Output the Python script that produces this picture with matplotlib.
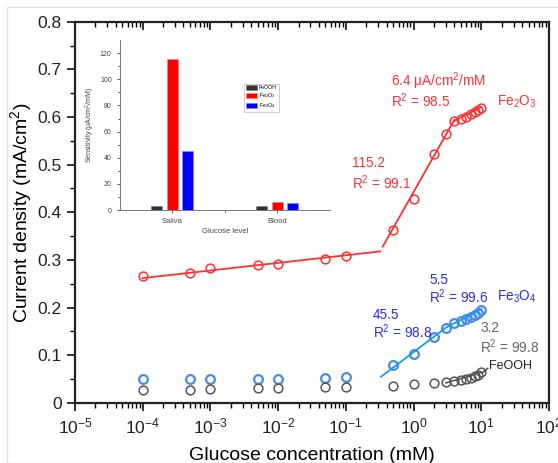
import numpy as np
import matplotlib
matplotlib.use("Agg")
import matplotlib.pyplot as plt
from matplotlib.patches import Rectangle

plt.rcParams['font.family'] = ['Liberation Sans', 'DejaVu Sans']
plt.rcParams['mathtext.fontset'] = 'custom'
plt.rcParams['mathtext.rm'] = 'Liberation Sans'
plt.rcParams['mathtext.it'] = 'Liberation Sans:italic'

# concentrations (mM)
conc = [1e-4, 5e-4, 1e-3, 5e-3, 1e-2, 5e-2, 0.1, 0.5, 1, 2, 3, 4, 5, 6, 7, 8, 9, 10]

# current density (mA/cm2)
fe2o3 = [0.266, 0.273, 0.283, 0.289, 0.292, 0.302, 0.309,
         0.363, 0.429, 0.522, 0.565, 0.591, 0.595, 0.600, 0.606, 0.611, 0.615, 0.619]
fe3o4 = [0.050, 0.050, 0.050, 0.050, 0.050, 0.053, 0.055,
         0.079, 0.102, 0.138, 0.157, 0.168, 0.172, 0.177, 0.180, 0.185, 0.188, 0.195]
feooh = [0.027, 0.027, 0.030, 0.031, 0.032, 0.034, 0.034,
         0.036, 0.039, 0.041, 0.043, 0.046, 0.048, 0.050, 0.053, 0.056, 0.058, 0.064]

# linear fit segments (x ends, y ends)
fe2o3_fit_low_x = [1e-4, 0.32]
fe2o3_fit_low_y = [0.262, 0.318]
fe2o3_fit_mid_x = [0.35, 4]
fe2o3_fit_mid_y = [0.328, 0.594]
fe2o3_fit_high_x = [4, 10]
fe2o3_fit_high_y = [0.592, 0.621]
fe3o4_fit_x = [0.33, 3, 10]
fe3o4_fit_y = [0.055, 0.158, 0.197]
feooh_fit_x = [3, 10]
feooh_fit_y = [0.042, 0.064]

# inset: sensitivity (uA/cm2/mM)
levels = ['Saliva', 'Blood']
sens_feooh = [3.2, 3.2]
sens_fe2o3 = [115.2, 6.4]
sens_fe3o4 = [45.5, 5.5]

red = '#ff3030'
blue_c = '#4a8ae8'
blue_line = '#1a9af0'
blue_t = '#2b2bf0'
gray = '#555555'

fig = plt.figure(figsize=(5.58, 4.63), dpi=100)
fig.patches.append(Rectangle((0.012, 0.0), 0.99, 0.985, transform=fig.transFigure,
                             fill=False, edgecolor='#e2e2e2', lw=1))
ax = fig.add_axes([0.1344, 0.1296, 0.8495, 0.8236])

ax.plot(conc, fe2o3, 'o', mfc='none', mec=red, ms=6.3, mew=1.1)
ax.plot(conc, fe3o4, 'o', mfc='none', mec=blue_c, ms=6.3, mew=1.6)
ax.plot(conc, feooh, 'o', mfc='none', mec=gray, ms=6.3, mew=1.1)
ax.plot(fe2o3_fit_low_x, fe2o3_fit_low_y, color=red, lw=1.3)
ax.plot(fe2o3_fit_mid_x, fe2o3_fit_mid_y, color=red, lw=1.3)
ax.plot(fe2o3_fit_high_x, fe2o3_fit_high_y, color=red, lw=1.3)
ax.plot(fe3o4_fit_x, fe3o4_fit_y, color=blue_line, lw=1.3)
ax.plot(feooh_fit_x, feooh_fit_y, color=gray, lw=1.1)
ax.plot([10.5, 12.5], [0.064, 0.073], color='#333333', lw=0.9)

ax.set_xscale('log')
ax.set_xlim(1e-5, 1e2)
ax.set_ylim(0, 0.8)
ax.set_yticks([0, 0.1, 0.2, 0.3, 0.4, 0.5, 0.6, 0.7, 0.8])
ax.set_yticklabels(['0', '0.1', '0.2', '0.3', '0.4', '0.5', '0.6', '0.7', '0.8'])
ax.set_yticks(np.arange(0.05, 0.8, 0.1), minor=True)
ax.set_xticks([1e-5, 1e-4, 1e-3, 1e-2, 1e-1, 1e0, 1e1, 1e2])
ax.set_xticklabels([r'$10^{-5}$', r'$10^{-4}$', r'$10^{-3}$', r'$10^{-2}$',
                    r'$10^{-1}$', r'$10^{0}$', r'$10^{1}$', r'$10^{2}$'])
ax.tick_params(which='major', direction='out', length=6, width=1.3, labelsize=12.5,
               colors='#222222', top=True, right=False)
ax.tick_params(which='minor', direction='out', length=3.5, width=1, top=True, right=False)
ax.tick_params(axis='x', which='both', top=True)
for t in ax.xaxis.get_major_ticks() + ax.xaxis.get_minor_ticks():
    t.tick2line.set_marker(3)  # inward on top
for sp in ax.spines.values():
    sp.set_linewidth(1.6)
    sp.set_color('#222222')
ax.set_xlabel('Glucose concentration (mM)', fontsize=14)
ax.set_ylabel('Current density (mA/cm$^2$)', fontsize=14)
ax.xaxis.set_label_coords(0.5, -0.115)
ax.yaxis.set_label_coords(-0.087, 0.5)

fs = 9.8
ax.text(0.47, 0.676, '6.4 \u03bcA/cm$^2$/mM', color=red, fontsize=fs, va='center')
ax.text(0.47, 0.635, 'R$^2$ = 98.5', color=red, fontsize=fs, va='center')
ax.text(17, 0.631, 'Fe$_2$O$_3$', color=red, fontsize=fs, va='center')
ax.text(0.125, 0.503, '115.2', color=red, fontsize=fs, va='center')
ax.text(0.125, 0.463, 'R$^2$ = 99.1', color=red, fontsize=fs, va='center')
ax.text(1.7, 0.258, '5.5', color=blue_t, fontsize=fs, va='center')
ax.text(1.7, 0.222, 'R$^2$ = 99.6', color=blue_t, fontsize=fs, va='center')
ax.text(17, 0.222, 'Fe$_3$O$_4$', color=blue_t, fontsize=fs, va='center')
ax.text(0.25, 0.184, '45.5', color=blue_t, fontsize=fs, va='center')
ax.text(0.25, 0.149, 'R$^2$ = 98.8', color=blue_t, fontsize=fs, va='center')
ax.text(9.7, 0.157, '3.2', color='#666666', fontsize=fs, va='center')
ax.text(9.7, 0.119, 'R$^2$ = 99.8', color='#666666', fontsize=fs, va='center')
ax.text(13, 0.078, 'FeOOH', color='#222222', fontsize=9, va='center')

# inset bar chart
ins = fig.add_axes([0.215, 0.5464, 0.376, 0.367])
pos = np.arange(len(levels))
w = 0.105
off = 0.148
ins.bar(pos - off, sens_feooh, w, color='#333333', edgecolor='#777777', lw=0.4, label='FeOOH')
ins.bar(pos, sens_fe2o3, w, color='#ff0000', edgecolor='#ff8080', lw=0.4, label='Fe$_2$O$_3$')
ins.bar(pos + off, sens_fe3o4, w, color='#0000ff', edgecolor='#8080ff', lw=0.4, label='Fe$_3$O$_4$')
ins.set_xlim(-0.5, 1.5)
ins.set_ylim(0, 130)
ins.set_xticks(pos)
ins.set_xticklabels(levels)
ins.set_xticks([0.5], minor=True)
ins.set_yticks([0, 20, 40, 60, 80, 100, 120])
ins.set_yticks(np.arange(10, 130, 20), minor=True)
ins.tick_params(labelsize=5, length=2.5, width=0.6, colors='#444444')
ins.tick_params(which='minor', length=1.5, width=0.5)
ins.tick_params(axis='x', labelsize=5.5)
ins.spines['top'].set_visible(False)
ins.spines['right'].set_visible(False)
for s in ['left', 'bottom']:
    ins.spines[s].set_color('#777777')
    ins.spines[s].set_linewidth(0.7)
ins.set_xlabel('Glucose level', fontsize=5.5, color='#444444', labelpad=2)
ins.set_ylabel('Sensitivity (\u03bcA/cm$^2$/mM)', fontsize=5, color='#444444', labelpad=2)
ins.patch.set_alpha(0)
leg = ins.legend(loc='upper left', bbox_to_anchor=(0.58, 0.76), fontsize=3.8,
                 frameon=True, fancybox=False, edgecolor='#aaaaaa',
                 handlelength=2.2, handleheight=1.0, borderpad=0.3, labelspacing=0.2,
                 handletextpad=0.3)
leg.get_frame().set_linewidth(0.5)

fig.savefig('out.png', dpi=100)
